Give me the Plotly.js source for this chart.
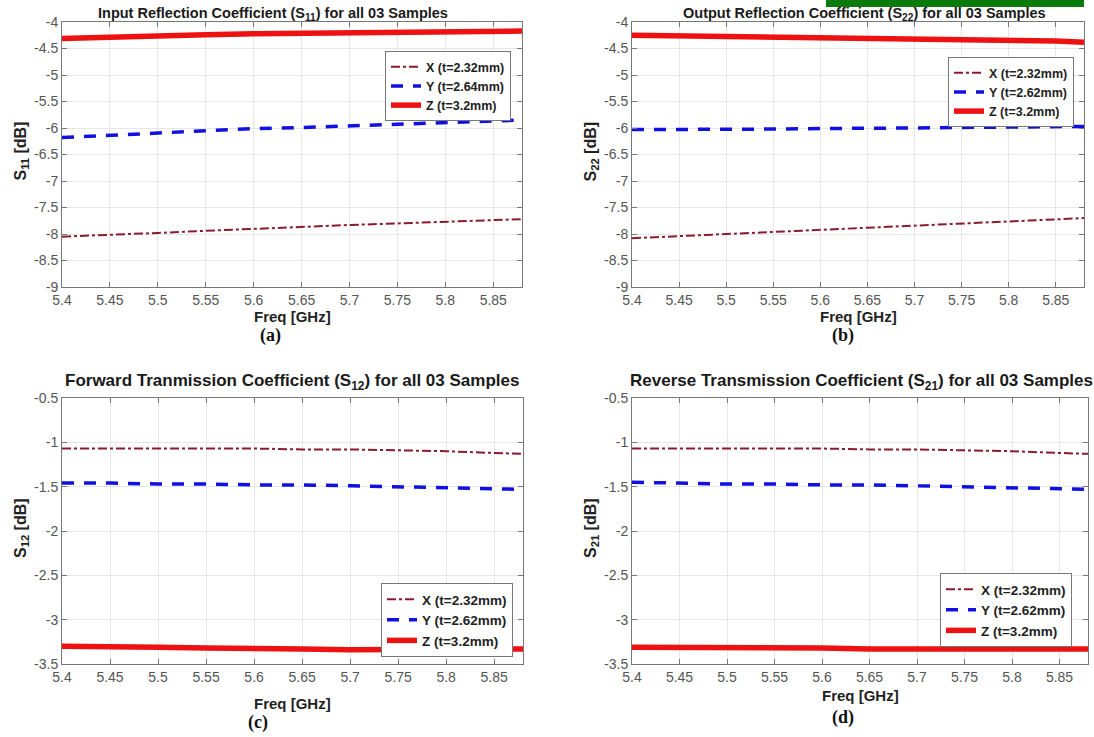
<!DOCTYPE html>
<html><head><meta charset="utf-8">
<script src="https://cdn.plot.ly/plotly-3.0.1.min.js"></script>
<style>body{margin:0;background:#fff}#g{width:1094px;height:737px}</style>
</head><body><div id="g"></div>
<script>
const freq = [5.40, 5.45, 5.50, 5.55, 5.60, 5.65, 5.70, 5.75, 5.80, 5.85, 5.88];

// (a) S11
const s11_X = [-8.05, -8.02, -7.98, -7.94, -7.90, -7.86, -7.83, -7.80, -7.77, -7.74, -7.72];
const s11_Y = [-6.18, -6.14, -6.09, -6.05, -6.01, -5.99, -5.96, -5.93, -5.90, -5.87, -5.85];
const s11_Z = [-4.31, -4.28, -4.26, -4.24, -4.22, -4.21, -4.20, -4.19, -4.18, -4.18, -4.17];
// (b) S22
const s22_X = [-8.08, -8.04, -8.00, -7.96, -7.92, -7.88, -7.84, -7.80, -7.77, -7.73, -7.70];
const s22_Y = [-6.03, -6.03, -6.03, -6.02, -6.01, -6.01, -6.00, -5.99, -5.98, -5.98, -5.97];
const s22_Z = [-4.25, -4.26, -4.27, -4.28, -4.29, -4.30, -4.32, -4.33, -4.34, -4.36, -4.38];
// (c) S12
const s12_X = [-1.07, -1.07, -1.07, -1.07, -1.07, -1.08, -1.08, -1.09, -1.10, -1.12, -1.13];
const s12_Y = [-1.46, -1.46, -1.47, -1.47, -1.48, -1.48, -1.49, -1.50, -1.51, -1.52, -1.53];
const s12_Z = [-3.30, -3.30, -3.31, -3.32, -3.32, -3.33, -3.34, -3.34, -3.34, -3.33, -3.33];
// (d) S21
const s21_X = [-1.07, -1.07, -1.07, -1.07, -1.07, -1.08, -1.08, -1.09, -1.10, -1.12, -1.13];
const s21_Y = [-1.45, -1.46, -1.47, -1.47, -1.48, -1.48, -1.49, -1.50, -1.51, -1.52, -1.53];
const s21_Z = [-3.31, -3.31, -3.31, -3.32, -3.32, -3.33, -3.33, -3.34, -3.34, -3.33, -3.33];

const namesA = ['X (t=2.32mm)', 'Y (t=2.64mm)', 'Z (t=3.2mm)'];
const namesB = ['X (t=2.32mm)', 'Y (t=2.62mm)', 'Z (t=3.2mm)'];

// tick labels
const xTickVals = [5.4, 5.45, 5.5, 5.55, 5.6, 5.65, 5.7, 5.75, 5.8, 5.85];
const xTickText = ['5.4', '5.45', '5.5', '5.55', '5.6', '5.65', '5.7', '5.75', '5.8', '5.85'];
const yTickValsTop = [-9, -8.5, -8, -7.5, -7, -6.5, -6, -5.5, -5, -4.5, -4];
const yTickTextTop = ['-9', '-8.5', '-8', '-7.5', '-7', '-6.5', '-6', '-5.5', '-5', '-4.5', '-4'];
const yTickValsBot = [-3.5, -3, -2.5, -2, -1.5, -1, -0.5];
const yTickTextBot = ['-3.5', '-3', '-2.5', '-2', '-1.5', '-1', '-0.5'];

const panelTitles = [
  'Input Reflection Coefficient (S<sub>11</sub>) for all 03 Samples',
  'Output Reflection Coefficient (S<sub>22</sub>) for all 03 Samples',
  'Forward Tranmission Coefficient (S<sub>12</sub>) for all 03 Samples',
  'Reverse Transmission Coefficient (S<sub>21</sub>) for all 03 Samples'
];
const yTitles = ['S<sub>11</sub> [dB]', 'S<sub>22</sub> [dB]', 'S<sub>12</sub> [dB]', 'S<sub>21</sub> [dB]'];
const panelLabels = ['(a)', '(b)', '(c)', '(d)'];

const W = 1094, H = 737;
const px = v => v / W, py = v => 1 - v / H;

const panels = [
  {X: s11_X, Y: s11_Y, Z: s11_Z, names: namesA, box: [62, 522, 22, 287], yr: [-9, -4],
   tv: yTickValsTop, tt: yTickTextTop, leg: [385, 51], legFont: 12.5,
   title: [273, 14], titleSize: 14.5, xt: 316, lab: [270, 336]},
  {X: s22_X, Y: s22_Y, Z: s22_Z, names: namesB, box: [632, 1084, 22, 287], yr: [-9, -4],
   tv: yTickValsTop, tt: yTickTextTop, leg: [948, 57], legFont: 12.5,
   title: [864, 14], titleSize: 14.5, xt: 316, lab: [843, 336]},
  {X: s12_X, Y: s12_Y, Z: s12_Z, names: namesB, box: [62, 523, 398, 664], yr: [-3.5, -0.5],
   tv: yTickValsBot, tt: yTickTextBot, leg: [381, 583], legFont: 13.5,
   title: [292, 382], titleSize: 17, xt: 703, lab: [258, 722]},
  {X: s21_X, Y: s21_Y, Z: s21_Z, names: namesB, box: [632, 1088, 398, 664], yr: [-3.5, -0.5],
   tv: yTickValsBot, tt: yTickTextBot, leg: [940, 573], legFont: 13.5,
   title: [861, 382], titleSize: 17, xt: 695, lab: [843, 717]}
];

const traces = [];
const layout = {
  width: W, height: H, margin: {l: 0, r: 0, t: 0, b: 0},
  paper_bgcolor: '#fff', plot_bgcolor: '#fff',
  font: {family: 'Liberation Sans, Arial, sans-serif', color: '#444'},
  annotations: [], shapes: []
};

panels.forEach((p, i) => {
  const k = i + 1;
  const xa = k === 1 ? 'x' : 'x' + k, ya = k === 1 ? 'y' : 'y' + k;
  const lg = k === 1 ? 'legend' : 'legend' + k;
  const styles = [
    {color: '#8b1a2e', width: 2, dash: 'dashdot'},
    {color: '#1010e0', width: 3.5, dash: '12px,10px'},
    {color: '#ee1111', width: 5.5, dash: 'solid'}
  ];
  [p.X, p.Y, p.Z].forEach((ys, j) => {
    traces.push({x: freq, y: ys, type: 'scatter', mode: 'lines', name: p.names[j],
      xaxis: xa, yaxis: ya, legend: lg, line: styles[j]});
  });
  const axCommon = {
    showline: true, mirror: 'ticks', linecolor: '#777', linewidth: 1,
    ticks: 'inside', ticklen: 5, tickcolor: '#777',
    showgrid: true, gridcolor: '#e6e6e6', zeroline: false,
    tickfont: {size: 14, color: '#555', family: 'Liberation Sans, Arial, sans-serif'}
  };
  layout['xaxis' + (k === 1 ? '' : k)] = Object.assign({}, axCommon, {
    domain: [px(p.box[0]), px(p.box[1])], range: [5.4, 5.88],
    tickmode: 'array', tickvals: xTickVals, ticktext: xTickText, anchor: ya
  });
  layout['yaxis' + (k === 1 ? '' : k)] = Object.assign({}, axCommon, {
    domain: [py(p.box[3]), py(p.box[2])], range: p.yr,
    tickmode: 'array', tickvals: p.tv, ticktext: p.tt, anchor: xa
  });
  layout[lg] = {
    x: px(p.leg[0]), y: py(p.leg[1]), xanchor: 'left', yanchor: 'top',
    xref: 'paper', yref: 'paper',
    bgcolor: '#fff', bordercolor: '#777', borderwidth: 1,
    font: {size: p.legFont, color: '#222', family: 'Liberation Sans, Arial, sans-serif', weight: 'bold'},
    tracegroupgap: 0, itemwidth: 30
  };
  const cx = (p.box[0] + p.box[1]) / 2;
  layout.annotations.push({
    text: '<b>' + panelTitles[i] + '</b>', x: px(p.title[0]), y: py(p.title[1]),
    xref: 'paper', yref: 'paper', xanchor: 'center', yanchor: 'middle', showarrow: false,
    font: {size: p.titleSize, color: '#1a1a1a'}
  });
  layout.annotations.push({
    text: '<b>Freq [GHz]</b>', x: px(cx), y: py(p.xt), xref: 'paper', yref: 'paper',
    xanchor: 'center', yanchor: 'middle', showarrow: false, font: {size: 15, color: '#222'}
  });
  layout.annotations.push({
    text: '<b>' + yTitles[i] + '</b>', x: px(p.box[0] - 41), y: py((p.box[2] + p.box[3]) / 2 - 3),
    xref: 'paper', yref: 'paper', xanchor: 'center', yanchor: 'middle', textangle: -90,
    showarrow: false, font: {size: 16, color: '#222'}
  });
  layout.annotations.push({
    text: '<b>' + panelLabels[i] + '</b>', x: px(p.lab[0]), y: py(p.lab[1]),
    xref: 'paper', yref: 'paper', xanchor: 'center', yanchor: 'middle', showarrow: false,
    font: {size: 18, color: '#111', family: 'Liberation Serif, Times New Roman, serif'}
  });
});

// cut-off caption fragment at the very top
layout.shapes.push({type: 'rect', xref: 'paper', yref: 'paper',
  x0: px(826), x1: px(1084), y0: py(7), y1: 1, fillcolor: '#0a7a0a', line: {width: 0}});

Plotly.newPlot('g', traces, layout, {displayModeBar: false, staticPlot: true});
</script></body></html>
